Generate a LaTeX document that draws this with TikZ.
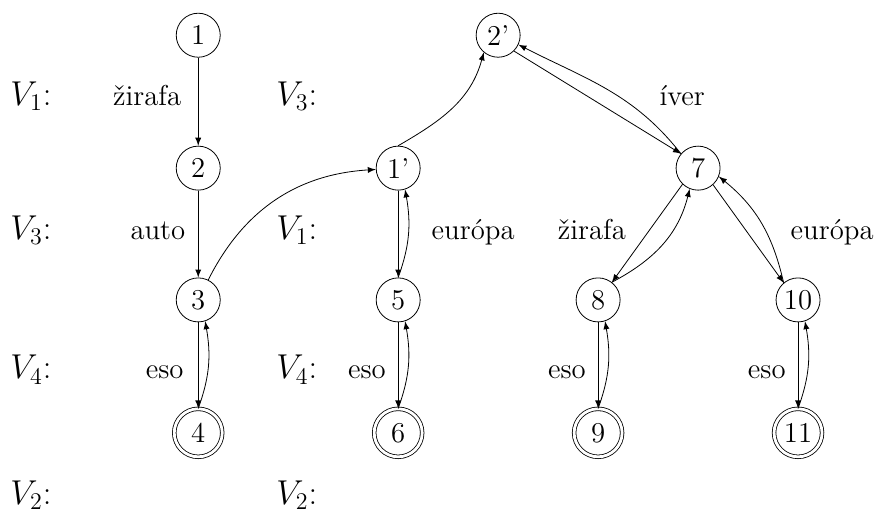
\documentclass[tikz,border=0pt]{standalone}
\usetikzlibrary{arrows}

\tikzset{
  state/.style = {circle, draw, inner sep = 0pt, minimum size = .775cm,
                  font = \Large},
  final/.style = {circle, draw, inner sep = 0pt, minimum size = .845cm,
                  double, double distance = 1.4pt, font = \Large},
  level/.style = {anchor = base west, font = \LARGE},
  word/.style = {anchor = base, font = \Large},
}

\begin{document}
\begin{tikzpicture}[>=latex]
      \useasboundingbox (0,0) rectangle (15.44,-9.085);
      % states
      \node [state] (s1) at (3.49,-0.62) {1};
      \node [state] (s2) at (3.49,-2.96) {2};
      \node [state] (s3) at (3.49,-5.28) {3};
      \node [final] (s4) at (3.49,-7.62) {4};
      \node [state] (s2p) at (8.77,-0.62) {2'};
      \node [state] (s1p) at (7.01,-2.96) {1'};
      \node [state] (s5) at (7.01,-5.28) {5};
      \node [final] (s6) at (7.01,-7.62) {6};
      \node [state] (s7) at (12.29,-2.96) {7};
      \node [state] (s8) at (10.53,-5.28) {8};
      \node [final] (s9) at (10.53,-7.62) {9};
      \node [state] (s10) at (14.05,-5.28) {10};
      \node [final] (s11) at (14.05,-7.62) {11};
      % levels
      \node [level] (l1a) at (.06,-1.85) {$V_1$:};
      \node [level] (l3a) at (.06,-4.22) {$V_3$:};
      \node [level] (l4a) at (.06,-6.67) {$V_4$:};
      \node [level] (l2a) at (.06,-8.88) {$V_2$:};
      \node [level] (l3b) at (4.74,-1.85) {$V_3$:};
      \node [level] (l1b) at (4.74,-4.22) {$V_1$:};
      \node [level] (l4b) at (4.74,-6.67) {$V_4$:};
      \node [level] (l2b) at (4.74,-8.88) {$V_2$:};
      % words
      \node [word] (w1) at (2.59,-1.85) {žirafa};
      \node [word] (w2) at (2.78,-4.22) {auto};
      \node [word] (w3) at (2.90,-6.67) {eso};
      \node [word] (w4) at (12.01,-1.85) {íver};
      \node [word] (w5) at (8.33,-4.22) {európa};
      \node [word] (w6) at (10.42,-4.22) {žirafa};
      \node [word] (w7) at (14.65,-4.22) {európa};
      \node [word] (w8) at (6.46,-6.67) {eso};
      \node [word] (w9) at (9.98,-6.67) {eso};
      \node [word] (w10) at (13.50,-6.67) {eso};
      % edges
      \draw [->] (s1) -- (s2);
      \draw [->] (s2) -- (s3);
      \draw [->] (s3) to [bend left = 30] (s1p);
      \draw [->] (s1p.north) to [out = 30, in = 255] (s2p.230);
      \draw [->] (s2p.-45) -- (s7.140);
      \draw [->] (s7.140) to [out = 128, in = -27] (s2p.-25);
      \draw [->] (s7.226) -- (s8.52);
      \draw [->] (s8.52) to [out = 28, in = 256] (s7.248);
      \draw [->] (s7.-48) -- (s10.130);
      \draw [->] (s10.130) to [out = 103, in = -39] (s7.-22);
      \foreach \a/\b in {s3/s4, s1p/s5, s5/s6, s8/s9, s10/s11} {
        \draw [->] (\a) -- (\b);
        \draw [->] (\b.north) to [out = 70, in = -80] (\a.-72);
      }
\end{tikzpicture}
\end{document}
